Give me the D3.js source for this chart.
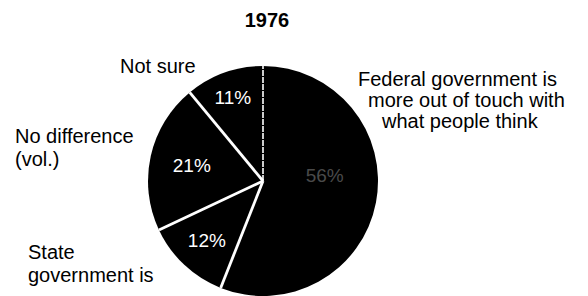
<!DOCTYPE html>
<html>
<head>
<meta charset="utf-8">
<script src="https://cdn.jsdelivr.net/npm/d3@7"></script>
<style>
  body { margin: 0; background: #fff; }
  svg text { font-family: "Liberation Sans", Arial, Helvetica, sans-serif; }
</style>
</head>
<body>
<svg class="pie" width="588" height="296"></svg>
<script>
// data, clockwise from 12 o'clock
var title = '1976';
var categories = ['Federal government is more out of touch with what people think',
                  'State government is',
                  'No difference (vol.)',
                  'Not sure'];
var values = [56, 12, 21, 11];

// how each category label is broken into lines
var labelLines = [
  ['Federal government is', 'more out of touch with', 'what people think'],
  ['State', 'government is'],
  ['No difference', '(vol.)'],
  ['Not sure']
];

var svg = d3.select('.pie');
var width = +svg.attr('width');
var height = +svg.attr('height');

var cx = 263, cy = 181, radius = 115;

// outside label layout (x of each line, first baseline, line step)
var labelLayout = [
  {xs: [358, 368, 382], y: 86, step: 21},
  {xs: [28, 28], y: 259, step: 23},
  {xs: [15, 15], y: 143, step: 23},
  {xs: [120], y: 73, step: 22}
];
// where the percentage sits inside its slice
var pctLayout = [
  {r: 62, da: -16, fill: '#4a4a4a'},
  {r: 82, da: 0, fill: '#fff'},
  {r: 73, da: 0, fill: '#fff'},
  {r: 89, da: 0, fill: '#fff'}
];

svg.append('text')
  .attr('x', 267)
  .attr('y', 27)
  .attr('text-anchor', 'middle')
  .style('font-size', '20px')
  .style('font-weight', 'bold')
  .text(title);

var pie = d3.pie().sort(null).value(function(d) { return d; });
var arcs = pie(values);

var arc = d3.arc().innerRadius(0).outerRadius(radius);

var g = svg.append('g').attr('transform', 'translate(' + cx + ',' + cy + ')');

g.selectAll('path.slice')
  .data(arcs)
  .enter()
  .append('path')
  .attr('class', 'slice')
  .attr('d', arc)
  .attr('fill', '#000');

// white separators between slices
g.selectAll('line.sep')
  .data(arcs)
  .enter()
  .append('line')
  .attr('class', 'sep')
  .attr('x1', 0).attr('y1', 0)
  .attr('x2', function(d) { return Math.sin(d.startAngle) * radius; })
  .attr('y2', function(d) { return -Math.cos(d.startAngle) * radius; })
  .attr('stroke', '#fff')
  .attr('stroke-width', function(d, i) { return i == 0 ? 1.6 : 2.8; })
  .attr('stroke-dasharray', function(d, i) { return i == 0 ? '6,1' : null; });

// percentages
g.selectAll('text.pct')
  .data(arcs)
  .enter()
  .append('text')
  .attr('class', 'pct')
  .attr('x', function(d, i) {
    var a = (d.startAngle + d.endAngle) / 2 + pctLayout[i].da * Math.PI / 180;
    return Math.sin(a) * pctLayout[i].r;
  })
  .attr('y', function(d, i) {
    var a = (d.startAngle + d.endAngle) / 2 + pctLayout[i].da * Math.PI / 180;
    return -Math.cos(a) * pctLayout[i].r;
  })
  .attr('dy', '0.35em')
  .attr('text-anchor', 'middle')
  .attr('fill', function(d, i) { return pctLayout[i].fill; })
  .style('font-size', '19px')
  .text(function(d) { return d.data + '%'; });

// category labels
labelLines.forEach(function(lines, i) {
  var lay = labelLayout[i];
  var t = svg.append('text')
    .attr('class', 'cat')
    .style('font-size', '20px')
    .attr('fill', '#000');
  lines.forEach(function(line, j) {
    t.append('tspan')
      .attr('x', lay.xs[j])
      .attr('y', lay.y + j * lay.step)
      .text(line);
  });
});
</script>
</body>
</html>
